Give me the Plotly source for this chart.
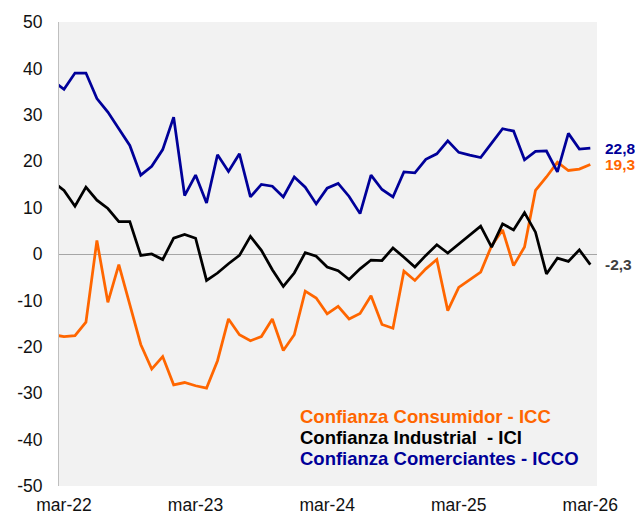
import plotly.graph_objects as go

# Monthly categories: feb-22 (partly clipped at the left edge) .. mar-26
mes = ["ene", "feb", "mar", "abr", "may", "jun", "jul", "ago", "sep", "oct", "nov", "dic"]
months = [f"{mes[m]}-{y % 100:02d}" for y in range(2022, 2027) for m in range(12)]
months = months[1:months.index("mar-26") + 1]

icc = [-17.4, -17.8, -17.6, -14.7, 2.9, -10.4, -2.3, -11.1, -19.5, -24.8, -22.1, -28.2, -27.7,
       -28.4, -28.9, -23.0, -14.0, -17.4, -18.7, -17.8, -14.0, -20.8, -17.4, -8.0, -9.5, -12.9,
       -11.3, -14.0, -12.8, -9.0, -15.2, -16.0, -3.7, -5.7, -3.2, -1.2, -12.2, -7.2,
       -5.5, -3.9, 1.8, 5.2, -2.5, 1.5, 13.7, 16.6, 19.8, 18.0, 18.3, 19.3]
ici = [15.6, 13.7, 10.3, 14.4, 11.6, 9.8, 7.0, 7.0, -0.3, 0.0, -1.2, 3.4, 4.2,
       3.4, -5.7, -4.1, -2.1, -0.3, 3.8, 0.8, -3.4, -7.0, -4.1, 0.3, -0.5, -2.8,
       -3.6, -5.5, -3.2, -1.3, -1.4, 1.3, -0.7, -2.8, -0.3, 2.0, 0.2, 2.2,
       4.0, 6.0, 1.5, 6.5, 5.2, 8.9, 4.7, -4.3, -0.9, -1.6, 0.9, -2.3]
icco = [37.3, 35.5, 39.0, 39.0, 33.5, 30.6, 27.0, 23.4, 17.0, 18.9, 22.5, 29.5, 12.6,
        17.0, 11.0, 21.4, 17.8, 21.6, 12.3, 15.0, 14.6, 12.3, 16.6, 14.4, 10.8, 14.2,
        15.2, 12.4, 8.7, 17.0, 13.9, 12.3, 17.7, 17.5, 20.4, 21.6, 24.4, 21.9,
        21.3, 20.8, 23.9, 27.0, 26.5, 20.3, 22.1, 22.2, 17.7, 26.0, 22.6, 22.8]

tick_labels = ["mar-22", "mar-23", "mar-24", "mar-25", "mar-26"]
y_ticks = [-50, -40, -30, -20, -10, 0, 10, 20, 30, 40, 50]
series_names = ["Confianza Consumidor - ICC", "Confianza Industrial\u00a0 - ICI",
                "Confianza Comerciantes - ICCO"]
colors = ["#FF6600", "#000000", "#000099"]
label_colors = ["#FF6600", "#404040", "#000099"]

fig = go.Figure()
for vals, name, col in zip([icc, ici, icco], series_names, colors):
    fig.add_trace(go.Scatter(x=months, y=vals, mode="lines", name=name,
                             line=dict(color=col, width=2.75), showlegend=False))

FONT = "Liberation Sans, Arial, sans-serif"

# End-value labels
for vals, col in zip([icco, icc, ici], [label_colors[2], label_colors[0], label_colors[1]]):
    fig.add_annotation(x=months[-1], y=vals[-1], xref="x", yref="y",
                       text=f"<b>{vals[-1]:.1f}</b>".replace(".", ","),
                       showarrow=False, xanchor="left", xshift=13,
                       font=dict(family=FONT, size=15.5, color=col))

# Text legend
for i, (name, col) in enumerate(zip(series_names, colors)):
    fig.add_annotation(x=0.445, y=[0.150, 0.1036, 0.0598][i], xref="paper", yref="paper",
                       text=f"<b>{name}</b>", showarrow=False, xanchor="left", yanchor="middle",
                       font=dict(family=FONT, size=18.5, color=col))

# The page body adds an 8px offset, so the figure is sized to fit inside the window.
fig.update_layout(
    width=635, height=508,
    margin=dict(l=51, r=46, t=14, b=30, autoexpand=False),
    paper_bgcolor="white", plot_bgcolor="#F2F2F2",
    font=dict(family=FONT, size=17.5, color="#111111"),
    xaxis=dict(type="category", categoryorder="array", categoryarray=months,
               range=[0.543, 49.61], tickmode="array", tickvals=tick_labels,
               ticktext=tick_labels, showgrid=False, zeroline=False, showline=False,
               ticks="outside", ticklen=3, tickcolor="rgba(0,0,0,0)", automargin=False),
    yaxis=dict(range=[-50, 50], tickmode="array", tickvals=y_ticks,
               ticktext=[str(v) for v in y_ticks], showgrid=False,
               zeroline=True, zerolinecolor="#A6A6A6", zerolinewidth=1,
               showline=True, linecolor="#BFBFBF", linewidth=1,
               ticks="outside", ticklen=12, tickcolor="rgba(0,0,0,0)", automargin=False),
)

fig.write_html("out.html")
